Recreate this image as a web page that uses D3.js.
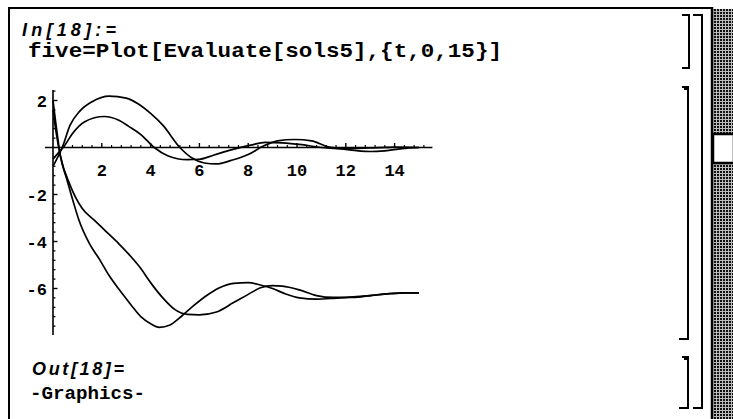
<!DOCTYPE html>
<html>
<head>
<meta charset="utf-8">
<script src="https://cdn.jsdelivr.net/npm/d3@7"></script>
<style>
  body { margin: 0; background: #fff; }
</style>
</head>
<body>
<svg id="nb"></svg>
<script>
// tick labels
const xTicks = [2, 4, 6, 8, 10, 12, 14];
const yTicks = [2, -2, -4, -6];

// the four solutions, [t, value]
const solA = [[0, -0.8], [0.2, -0.4], [0.38, 0.0], [0.7, 0.95], [1.1, 1.55], [1.6, 1.95], [2.3, 2.19],
  [3.0, 2.1], [3.5, 1.85], [4.0, 1.45], [4.5, 0.95], [5.2, 0.0], [5.7, -0.45], [6.2, -0.66], [6.7, -0.7],
  [7.3, -0.55], [8.0, -0.3], [8.6, 0.05], [9.2, 0.28], [9.9, 0.34], [10.6, 0.28], [11.2, 0.05],
  [12.0, -0.08], [13.0, -0.17], [13.6, -0.14], [14.3, -0.05], [15, 0.0]];
const solB = [[0, -0.5], [0.2, -0.25], [0.42, 0.0], [0.8, 0.6], [1.3, 1.1], [2.1, 1.32], [2.7, 1.16],
  [3.1, 0.9], [3.6, 0.55], [4.15, 0.0], [4.7, -0.35], [5.5, -0.52], [6.0, -0.5], [6.6, -0.32],
  [7.3, -0.1], [8.1, 0.1], [8.7, 0.22], [9.4, 0.2], [10.2, 0.12], [11.0, 0.0], [12.0, -0.05],
  [13.0, -0.02], [14.0, 0.02], [15, 0.0]];
const solC = [[0, 2.0], [0.12, 1.0], [0.3, -0.35], [0.55, -1.3], [0.8, -2.2], [1.05, -3.05],
  [1.5, -4.1], [1.9, -4.75], [2.3, -5.45], [2.75, -6.1], [3.2, -6.7], [3.6, -7.2], [4.0, -7.5],
  [4.35, -7.65], [4.8, -7.55], [5.3, -7.15], [5.8, -6.7], [6.3, -6.3], [6.8, -5.98], [7.4, -5.78],
  [8.0, -5.75], [8.5, -5.85], [9.0, -6.0], [9.5, -6.22], [10.1, -6.4], [10.8, -6.45], [11.5, -6.42],
  [12.3, -6.36], [13.0, -6.3], [13.8, -6.22], [14.5, -6.19], [15, -6.19]];
const solD = [[0, 1.6], [0.12, 0.7], [0.3, -0.35], [0.7, -1.6], [1.2, -2.6], [1.7, -3.1], [2.2, -3.6],
  [2.7, -4.1], [3.2, -4.65], [3.6, -5.15], [4.0, -5.75], [4.5, -6.4], [5.0, -6.9], [5.5, -7.1],
  [6.0, -7.12], [6.7, -7.0], [7.4, -6.6], [8.0, -6.25], [8.5, -5.97], [9.0, -5.88], [9.4, -5.9],
  [10.1, -6.06], [10.8, -6.3], [11.5, -6.38], [12.3, -6.38], [13.0, -6.3], [13.8, -6.22],
  [14.5, -6.19], [15, -6.19]];
const sols = [solA, solB, solC, solD];

const width = 733;
const height = 419;

const svg = d3.select("#nb")
    .attr("width", width)
    .attr("height", height);

svg.append("rect").attr("width", width).attr("height", height).attr("fill", "#fff");

// stipple for the scroll bar
const pat = svg.append("defs").append("pattern")
    .attr("id", "stip")
    .attr("width", 3).attr("height", 3)
    .attr("patternUnits", "userSpaceOnUse");
pat.append("rect").attr("width", 3).attr("height", 3).attr("fill", "#bbb");
pat.append("rect").attr("width", 2).attr("height", 2).attr("fill", "#111");

// window frame
svg.append("path")
    .attr("d", "M9,419 V8 H712")
    .attr("fill", "none").attr("stroke", "#000").attr("stroke-width", 2);

// scroll bar
svg.append("rect")
    .attr("x", 713).attr("y", 9).attr("width", 20).attr("height", 410)
    .attr("fill", "url(#stip)");
svg.append("line")
    .attr("x1", 712).attr("x2", 712).attr("y1", 7).attr("y2", 419)
    .attr("stroke", "#000").attr("stroke-width", 2.5);
svg.append("rect")
    .attr("x", 713).attr("y", 134).attr("width", 21).attr("height", 29)
    .attr("fill", "#fff").attr("stroke", "#000").attr("stroke-width", 2.5);

// cell brackets
const brackets = [
    "M682,15 H689 V68 H682",
    "M693,15 H702 V408 H693",
    "M682,87 H688 V339 H679",
    "M682,357 H688 V408 H679"
];
svg.selectAll(".bracket")
    .data(brackets)
    .enter()
    .append("path")
    .attr("class", "bracket")
    .attr("d", d => d)
    .attr("fill", "none")
    .attr("stroke", "#000")
    .attr("stroke-width", 2);
// little marks on graphics / output brackets
[87, 357].forEach(y0 => {
    svg.append("rect").attr("x", 684).attr("y", y0).attr("width", 4).attr("height", 3).attr("fill", "#000");
});

// cell texts
svg.append("text")
    .attr("x", 22).attr("y", 36)
    .attr("font-family", "Liberation Sans, Arial, sans-serif")
    .attr("font-style", "italic")
    .attr("font-weight", "bold")
    .attr("font-size", 18)
    .attr("textLength", 94).attr("lengthAdjust", "spacing")
    .text("In[18]:=");

svg.append("text")
    .attr("x", 28).attr("y", 57)
    .attr("font-family", "Liberation Mono, Courier New, monospace")
    .attr("font-weight", "bold")
    .attr("font-size", 21)
    .attr("textLength", 474).attr("lengthAdjust", "spacingAndGlyphs")
    .text("five=Plot[Evaluate[sols5],{t,0,15}]");

svg.append("text")
    .attr("x", 32).attr("y", 375)
    .attr("font-family", "Liberation Sans, Arial, sans-serif")
    .attr("font-style", "italic")
    .attr("font-weight", "bold")
    .attr("font-size", 18)
    .attr("textLength", 92).attr("lengthAdjust", "spacing")
    .text("Out[18]=");

svg.append("text")
    .attr("x", 30).attr("y", 399)
    .attr("font-family", "Liberation Mono, Courier New, monospace")
    .attr("font-weight", "bold")
    .attr("font-size", 18)
    .attr("textLength", 115).attr("lengthAdjust", "spacingAndGlyphs")
    .text("-Graphics-");

// plot
const x = d3.scaleLinear().domain([0, 15]).range([53, 419]);
const y = d3.scaleLinear().domain([0, 2]).range([147.5, 100.5]);

const plot = svg.append("g");

// axes
plot.append("line")
    .attr("x1", x(-0.33)).attr("x2", x(15.55))
    .attr("y1", y(0)).attr("y2", y(0))
    .attr("stroke", "#000").attr("stroke-width", 1.6);
plot.append("line")
    .attr("x1", x(0)).attr("x2", x(0))
    .attr("y1", y(2.45)).attr("y2", y(-7.98))
    .attr("stroke", "#000").attr("stroke-width", 1.6);

const xMinor = d3.range(1, 39).map(i => i * 0.4).filter(v => Math.abs(v / 2 - Math.round(v / 2)) > 1e-6);
const yMinor = d3.range(-19, 7).map(i => i * 0.4).filter(v => Math.abs(v / 2 - Math.round(v / 2)) > 1e-6);

plot.selectAll(".xminor").data(xMinor).enter().append("line")
    .attr("x1", d => x(d)).attr("x2", d => x(d))
    .attr("y1", y(0)).attr("y2", y(0) - 2.5)
    .attr("stroke", "#000").attr("stroke-width", 1.2);
plot.selectAll(".xmajor").data(xTicks).enter().append("line")
    .attr("x1", d => x(d)).attr("x2", d => x(d))
    .attr("y1", y(0)).attr("y2", y(0) - 4.5)
    .attr("stroke", "#000").attr("stroke-width", 1.4);
plot.selectAll(".yminor").data(yMinor).enter().append("line")
    .attr("x1", x(0)).attr("x2", x(0) + 2.5)
    .attr("y1", d => y(d)).attr("y2", d => y(d))
    .attr("stroke", "#000").attr("stroke-width", 1.2);
plot.selectAll(".ymajor").data(yTicks).enter().append("line")
    .attr("x1", x(0)).attr("x2", x(0) + 4.5)
    .attr("y1", d => y(d)).attr("y2", d => y(d))
    .attr("stroke", "#000").attr("stroke-width", 1.4);

plot.selectAll(".xlab").data(xTicks).enter().append("text")
    .attr("x", d => x(d)).attr("y", 175.5)
    .attr("text-anchor", "middle")
    .attr("font-family", "Liberation Mono, Courier New, monospace")
    .attr("font-weight", "bold")
    .attr("font-size", 17)
    .text(d => d);
plot.selectAll(".ylab").data(yTicks).enter().append("text")
    .attr("x", 47).attr("y", d => y(d) + 1)
    .attr("dy", "0.35em")
    .attr("text-anchor", "end")
    .attr("font-family", "Liberation Mono, Courier New, monospace")
    .attr("font-weight", "bold")
    .attr("font-size", 17)
    .text(d => d < 0 ? "-" + Math.abs(d) : d);

// curves
const line = d3.line()
    .x(d => x(d[0]))
    .y(d => y(d[1]))
    .curve(d3.curveMonotoneX);

plot.selectAll(".sol").data(sols).enter().append("path")
    .attr("class", "sol")
    .attr("d", line)
    .attr("fill", "none")
    .attr("stroke", "#000")
    .attr("stroke-width", 1.7);
</script>
</body>
</html>
